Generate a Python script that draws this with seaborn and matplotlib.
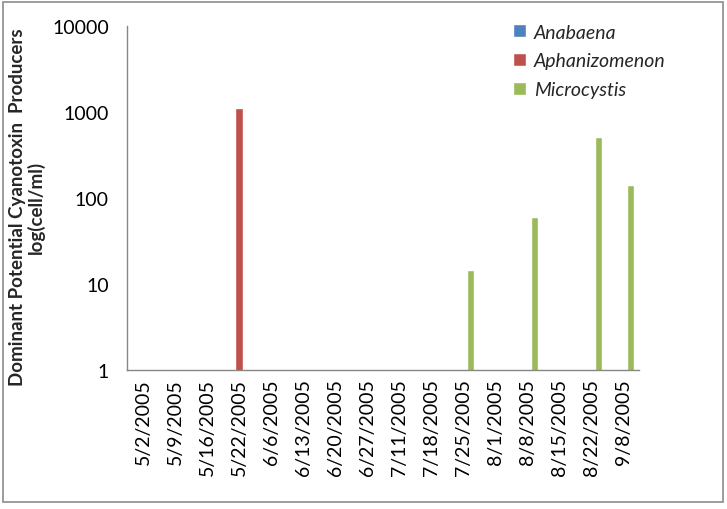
import matplotlib
matplotlib.use("Agg")
import matplotlib.pyplot as plt
from matplotlib.patches import Rectangle
import numpy as np
import pandas as pd
import seaborn as sns

dates = ['5/2/2005', '5/9/2005', '5/16/2005', '5/22/2005', '6/6/2005', '6/13/2005',
         '6/20/2005', '6/27/2005', '7/11/2005', '7/18/2005', '7/25/2005', '8/1/2005',
         '8/8/2005', '8/15/2005', '8/22/2005', '9/8/2005']
species = ['Anabaena', 'Aphanizomenon', 'Microcystis']
anabaena = [np.nan] * 16
aphanizomenon = [np.nan, np.nan, np.nan, 1110, np.nan, np.nan, np.nan, np.nan,
                 np.nan, np.nan, np.nan, np.nan, np.nan, np.nan, np.nan, np.nan]
microcystis = [np.nan, np.nan, np.nan, np.nan, np.nan, np.nan, np.nan, np.nan,
               np.nan, np.nan, 14.4, np.nan, 60, np.nan, 510, 143]
colors = ['#4F81BD', '#C0504D', '#9BBB59']

df = pd.DataFrame({
    'date': dates * 3,
    'species': np.repeat(species, len(dates)),
    'value': anabaena + aphanizomenon + microcystis,
})

sns.set_style("white")
plt.rcParams['font.family'] = ['Lato', 'DejaVu Sans']

fig = plt.figure(figsize=(7.27, 5.10), dpi=100)
ax = fig.add_axes([0.1747, 0.2725, 0.7043, 0.6745])
ax.set_yscale('log')
sns.barplot(data=df, x='date', y='value', hue='species', hue_order=species,
            order=dates, palette=colors, width=0.667, gap=0, errorbar=None,
            saturation=1, ax=ax)

ax.set_ylim(1, 10000)
ax.set_xlim(-0.5, len(dates) - 0.5)
ax.set_yticks([1, 10, 100, 1000, 10000])
ax.set_yticklabels(['1', '10', '100', '1000', '10000'])
ax.yaxis.set_minor_locator(matplotlib.ticker.NullLocator())
ax.tick_params(axis='both', length=0, labelsize=14, colors='black')
ax.tick_params(axis='y', pad=13)
ax.tick_params(axis='x', rotation=90, pad=6)
ax.set_xlabel('')
ax.set_ylabel('')
# y label placed by hand, like the original
fig.text(27 / 727, 1 - 207 / 510,
         'Dominant Potential Cyanotoxin  Producers\nlog(cell/ml)',
         rotation=90, ha='center', va='center', multialignment='center',
         fontsize=13.5, fontweight='bold', linespacing=1.1)

for s in ['top', 'right']:
    ax.spines[s].set_visible(False)
for s in ['left', 'bottom']:
    ax.spines[s].set_color('#868686')
    ax.spines[s].set_linewidth(1.0)

leg = ax.legend(loc='upper left', bbox_to_anchor=(0.72, 1.058), frameon=False,
                prop={'style': 'italic', 'size': 14}, handlelength=0.65,
                handleheight=0.65, handletextpad=0.4, labelspacing=0.6)

fig.patches.append(Rectangle((3 / 727, 7 / 510), 720 / 727, 500 / 510,
                             transform=fig.transFigure, fill=False,
                             edgecolor='#8C8C8C', linewidth=1.2))

fig.savefig('out.png', dpi=100)
